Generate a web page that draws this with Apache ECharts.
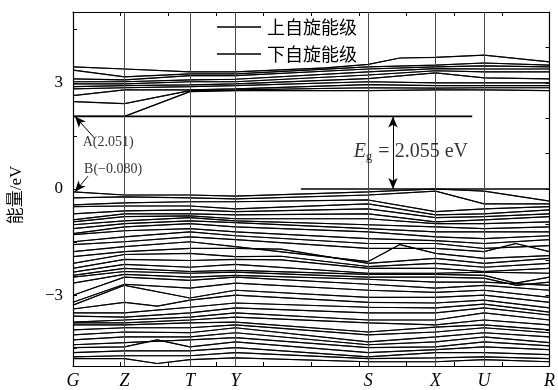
<!DOCTYPE html>
<html><head><meta charset="utf-8">
<script src="https://cdn.jsdelivr.net/npm/echarts@6/dist/echarts.min.js"></script>
<style>html,body{margin:0;padding:0;background:#fff}#c{width:558px;height:390px}</style>
</head><body><div id="c"></div>
<script>
// k-path labels and positions (path distance)
const kNames = ['G','Z','T','Y','S','X','U','R'];
const kPos = [0, 52, 118, 164, 298, 366, 415, 481];
const xTicks = [0, 48.1, 96.2, 144.3, 192.4, 240.5, 288.6, 336.7, 384.8, 432.9, 481];
const yTicksLeft = [-4.5, -3, -1.5, 0, 1.5, 3, 4.5];
const yLabels = [-3, 0, 3];

// valence bands, energy (eV) at G Z T Y S X U R
const vbG = [-0.08,-0.25,-0.45,-0.50,-0.70,-0.87,-0.93,-1.01,-1.12,-1.26,-1.29,-1.49,-1.57,-1.77,-1.91,-2.10,-2.24,-2.35,-2.44,-2.49,-2.66,-3.00,-3.20,-3.28,-3.39,-3.50,-3.59,-3.76,-3.78,-3.84,-3.98,-4.12,-4.26,-4.40,-4.48,-4.62,-4.74,-4.79];
const vbZ = [-0.17,-0.22,-0.39,-0.48,-0.62,-0.70,-0.78,-0.90,-0.98,-1.07,-1.18,-1.35,-1.49,-1.63,-1.77,-1.85,-1.99,-2.13,-2.24,-2.33,-2.41,-2.49,-2.69,-2.72,-3.20,-3.50,-3.62,-3.70,-3.78,-3.84,-3.92,-4.04,-4.18,-4.34,-4.46,-4.57,-4.71,-4.79];
const vbT = [-0.17,-0.25,-0.36,-0.48,-0.59,-0.70,-0.76,-0.81,-0.90,-0.98,-1.12,-1.21,-1.35,-1.49,-1.68,-1.82,-2.02,-2.21,-2.33,-2.38,-2.49,-2.58,-2.80,-3.08,-3.14,-3.34,-3.50,-3.62,-3.70,-3.78,-3.92,-4.06,-4.18,-4.26,-4.46,-4.57,-4.71,-4.82];
const vbY = [-0.20,-0.28,-0.36,-0.56,-0.64,-0.73,-0.84,-0.90,-0.95,-1.07,-1.21,-1.32,-1.43,-1.63,-1.68,-1.91,-1.99,-2.13,-2.30,-2.35,-2.44,-2.49,-2.66,-2.86,-3.00,-3.22,-3.36,-3.50,-3.62,-3.76,-3.84,-3.92,-4.06,-4.20,-4.32,-4.48,-4.62,-4.77];
const vbS = [-0.08,-0.17,-0.31,-0.42,-0.56,-0.70,-0.84,-1.01,-1.12,-1.21,-1.40,-1.54,-1.68,-2.05,-2.10,-2.19,-2.24,-2.38,-2.41,-2.49,-2.55,-2.69,-2.86,-3.06,-3.20,-3.34,-3.50,-3.70,-3.78,-4.04,-4.12,-4.32,-4.40,-4.48,-4.62,-4.74,-4.79,-4.88];
const vbX = [0.00,-0.06,-0.64,-0.73,-0.81,-0.93,-0.98,-1.07,-1.21,-1.35,-1.46,-1.54,-1.68,-1.82,-1.96,-2.10,-2.24,-2.38,-2.41,-2.49,-2.63,-2.80,-2.92,-3.06,-3.22,-3.36,-3.50,-3.70,-3.84,-3.90,-4.04,-4.18,-4.32,-4.46,-4.54,-4.62,-4.77,-4.88];
const vbU = [-0.06,-0.42,-0.56,-0.70,-0.78,-0.87,-0.98,-1.12,-1.21,-1.40,-1.54,-1.68,-1.77,-1.96,-2.10,-2.21,-2.33,-2.35,-2.44,-2.52,-2.63,-2.72,-2.86,-3.00,-3.14,-3.25,-3.36,-3.50,-3.70,-3.84,-3.92,-4.06,-4.18,-4.32,-4.46,-4.62,-4.74,-4.82];
const vbR = [-0.34,-0.42,-0.50,-0.59,-0.70,-0.78,-0.93,-1.07,-1.21,-1.32,-1.43,-1.60,-1.77,-1.88,-1.96,-2.10,-2.24,-2.38,-2.49,-2.63,-2.72,-2.86,-3.06,-3.20,-3.36,-3.48,-3.56,-3.70,-3.84,-3.98,-4.06,-4.18,-4.34,-4.43,-4.54,-4.68,-4.79,-4.88];
// extra kink points: [band index, path position, energy]
const vbKinks = [[37,85,-4.93],[34,85,-4.26],[24,85,-3.31],[13,330,-1.57],[12,447,-1.54],[19,447,-2.72],[18,447,-2.66],[14,210,-1.70],[15,210,-1.90],[16,210,-2.00]];

// conduction bands at G Z T Y S X U R
const cbG = [2.05,2.47,2.64,2.83,2.89,2.97,3.03,3.11,3.36,3.45];
const cbZ = [2.05,2.41,2.80,2.86,2.92,2.97,3.03,3.08,3.17,3.39];
const cbT = [2.75,2.78,2.80,2.89,2.94,3.03,3.08,3.20,3.25,3.31];
const cbY = [2.78,2.80,2.83,2.92,2.97,3.03,3.10,3.20,3.25,3.31];
const cbS = [2.78,2.86,2.95,3.03,3.12,3.22,3.31,3.39,3.45,3.52];
const cbX = [2.80,2.85,2.92,3.00,3.28,3.34,3.40,3.45,3.50,3.72];
const cbU = [2.80,2.86,2.92,3.00,3.14,3.31,3.39,3.48,3.56,3.78];
const cbR = [2.78,2.86,2.92,3.00,3.11,3.31,3.39,3.45,3.50,3.59];
const cbKinks = [[9,330,3.70],[9,255,3.42]];

// annotations
const cbmLine = [[0,2.051],[403,2.051]];
const vbmLine = [[230,0],[481,0]];
const gapArrowX = 323;
const cbm = 2.051, vbm = 0, vbG0 = -0.080;

function buildBands(cols, kinks){
  const n = cols[0].length, out = [];
  for(let i=0;i<n;i++){
    const pts = kPos.map((x,j)=>[x, cols[j][i]]);
    kinks.filter(k=>k[0]===i).forEach(k=>pts.push([k[1],k[2]]));
    pts.sort((a,b)=>a[0]-b[0]);
    out.push(pts);
  }
  return out;
}
const bands = buildBands([vbG,vbZ,vbT,vbY,vbS,vbX,vbU,vbR], vbKinks)
  .concat(buildBands([cbG,cbZ,cbT,cbY,cbS,cbX,cbU,cbR], cbKinks));

const serif = "'Liberation Serif', 'Noto Sans CJK SC', serif";
const series = [];
bands.forEach(b=>series.push({name:'下自旋能级', type:'line', data:b, symbol:'none', z:2, silent:true,
  itemStyle:{color:'#000'}, lineStyle:{color:'#000', width:0.8}}));
bands.forEach(b=>series.push({name:'上自旋能级', type:'line', data:b, symbol:'none', z:3, silent:true,
  itemStyle:{color:'#000'}, lineStyle:{color:'#000', width:1.2}}));
// k-point vertical lines
series.push({type:'line', data:[], silent:true, markLine:{silent:true, symbol:'none', label:{show:false},
  lineStyle:{color:'#4a4a4a', width:1, type:'solid'},
  data: kPos.slice(1,-1).map(x=>({xAxis:x}))}, z:1});
// CBM / VBM lines
series.push({type:'line', data:cbmLine, symbol:'none', silent:true, z:4, lineStyle:{color:'#000', width:1.6}});
series.push({type:'line', data:vbmLine, symbol:'none', silent:true, z:4, lineStyle:{color:'#000', width:1.6}});
// arrows
series.push({type:'line', data:[], silent:true, z:5, markLine:{silent:true, label:{show:false},
  lineStyle:{color:'#000', width:1, type:'solid'}, symbolSize:[7,11],
  data:[
    [{coord:[gapArrowX,cbm], symbol:'arrow'},{coord:[gapArrowX,vbm], symbol:'arrow'}],
    [{coord:[22,1.43], symbol:'none'},{coord:[2,cbm], symbol:'arrow'}],
    [{coord:[15,0.36], symbol:'none'},{coord:[2,vbG0], symbol:'arrow'}]
  ]}});
// annotation texts
series.push({type:'scatter', symbolSize:0, silent:true, z:6,
  label:{show:true, position:'inside', color:'#000', fontFamily:serif},
  data:[
    {value:[35.5,1.32], label:{formatter:'A(2.051)', fontSize:14}},
    {value:[40.5,0.56], label:{formatter:'B(\u22120.080)', fontSize:14}},
    {value:[341,1.04], label:{formatter:'{i|E}{s|g}{n| = 2.055 eV}',
      rich:{i:{fontFamily:serif, fontStyle:'italic', fontSize:20, color:'#000'},
            s:{fontFamily:serif, fontSize:13, color:'#000', verticalAlign:'bottom', padding:[9,1,0,0]},
            n:{fontFamily:serif, fontSize:20, color:'#000'}}}}
  ]});

const chart = echarts.init(document.getElementById('c'));
chart.setOption({
  animation:false,
  grid:{left:73, right:4, top:12, bottom:23},
  legend:{data:[{name:'上自旋能级', icon:'rect'},{name:'下自旋能级', icon:'rect'}], orient:'vertical', left:212, top:13,
    itemWidth:44, itemHeight:1.5, itemGap:9,
    textStyle:{fontFamily:"'Noto Sans CJK SC'", fontSize:18, color:'#000', padding:[0,0,0,1]}, selectedMode:false},
  xAxis:[
    {type:'value', min:0, max:481, position:'bottom',
      axisLine:{onZero:false, lineStyle:{color:'#000', width:1.2}},
      axisTick:{inside:true, length:4, customValues:xTicks, lineStyle:{color:'#000'}},
      axisLabel:{customValues:kPos, formatter:v=>kNames[kPos.indexOf(v)], fontFamily:serif, fontStyle:'italic', fontSize:18, color:'#000', margin:6},
      splitLine:{show:false}},
    {type:'value', min:0, max:481, position:'top',
      axisLine:{onZero:false, lineStyle:{color:'#000', width:1.2}},
      axisTick:{inside:true, length:4, customValues:xTicks, lineStyle:{color:'#000'}},
      axisLabel:{show:false}, splitLine:{show:false}}
  ],
  yAxis:[
    {type:'value', min:-5, max:5, position:'left',
      name:'能量/eV', nameLocation:'middle', nameGap:48,
      nameTextStyle:{fontFamily:serif, fontSize:17, color:'#000', padding:[0,0,0,-12]},
      axisLine:{onZero:false, lineStyle:{color:'#000', width:1.2}},
      axisTick:{inside:true, length:4, customValues:yTicksLeft, lineStyle:{color:'#000'}},
      axisLabel:{customValues:yLabels, formatter:v=>v<0?'\u2212'+Math.abs(v):String(v), fontFamily:serif, fontSize:17, color:'#000', margin:10},
      splitLine:{show:false}},
    {type:'value', min:-5, max:5, interval:1, position:'right',
      axisLine:{onZero:false, lineStyle:{color:'#000', width:1.2}},
      axisTick:{inside:true, length:4, lineStyle:{color:'#000'}},
      axisLabel:{show:false}, splitLine:{show:false}}
  ],
  series: series
});
</script></body></html>
